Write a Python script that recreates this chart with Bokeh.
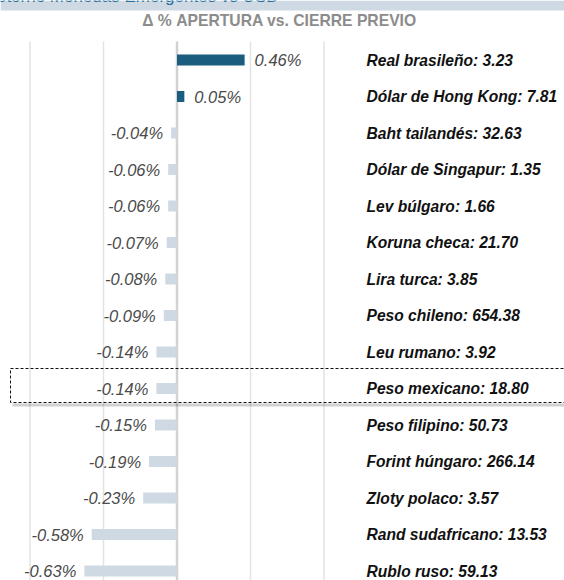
from bokeh.plotting import figure
from bokeh.models import Range1d, ColumnDataSource
from bokeh.core.properties import value
from bokeh.embed import file_html
from bokeh.resources import INLINE

# ---- data ----
currencies = [
    "Real brasileño: 3.23",
    "Dólar de Hong Kong: 7.81",
    "Baht tailandés: 32.63",
    "Dólar de Singapur: 1.35",
    "Lev búlgaro: 1.66",
    "Koruna checa: 21.70",
    "Lira turca: 3.85",
    "Peso chileno: 654.38",
    "Leu rumano: 3.92",
    "Peso mexicano: 18.80",
    "Peso filipino: 50.73",
    "Forint húngaro: 266.14",
    "Zloty polaco: 3.57",
    "Rand sudafricano: 13.53",
    "Rublo ruso: 59.13",
]
changes = [0.46, 0.05, -0.04, -0.06, -0.06, -0.07, -0.08, -0.09,
           -0.14, -0.14, -0.15, -0.19, -0.23, -0.58, -0.63]
grid_ticks = [-1.0, -0.5, 0.0, 0.5, 1.0]
highlight = "Peso mexicano: 18.80"
header_text = "Retorno Monedas Emergentes vs USD"
title_text = "\u0394 % APERTURA vs. CIERRE PREVIO"

# ---- scales (pixels) ----
W, H = 564, 580
PX_PER_UNIT = 147.0
ZERO_PX = 176.5
ROW0_PX = 59.5
ROW_STEP = 36.5

x_start = -ZERO_PX / PX_PER_UNIT
x_end = x_start + W / PX_PER_UNIT
y_top = -ROW0_PX / ROW_STEP
y_bottom = y_top + H / ROW_STEP

def px_x(px):
    return x_start + px / PX_PER_UNIT

def px_y(py):
    return y_top + py / ROW_STEP

p = figure(width=W, height=H, output_backend="svg", toolbar_location=None,
           x_range=Range1d(x_start, x_end), y_range=Range1d(y_bottom, y_top),
           min_border=0, outline_line_color=None)
p.axis.visible = False
p.grid.visible = False
p.background_fill_color = "white"
p.border_fill_color = "white"

rows = list(range(len(currencies)))

# top band (cropped header strip, as in the reference)
p.quad(left=[x_start], right=[x_end], top=[y_top], bottom=[px_y(10)],
       fill_color="#cfd9e3", line_color=None)
p.text(x=[px_x(278)], y=[px_y(-4)], text=[header_text],
       text_font=value("Liberation Sans"), text_font_size="17px",
       text_color="#2a6f9e", text_align="right", text_baseline="alphabetic")

# grid lines
grid_top = px_y(41)
p.segment(x0=grid_ticks, x1=grid_ticks, y0=[grid_top] * len(grid_ticks),
          y1=[y_bottom] * len(grid_ticks),
          line_color=["#e3e3e3", "#e3e3e3", "#d2d2d2", "#e3e3e3", "#e3e3e3"],
          line_width=[1.5, 1.5, 2.5, 1.5, 1.5])

# bars
colors = ["#1b5d7e" if v > 0 else "#cfd9e4" for v in changes]
src = ColumnDataSource(dict(y=rows, v=changes, c=colors,
                            lbl=[f"{v:.2f}%" for v in changes],
                            name=currencies))
p.hbar(y="y", left=0, right="v", height=11 / ROW_STEP, fill_color="c",
       line_color=None, source=src)

pos = ColumnDataSource(dict(y=[r for r, v in zip(rows, changes) if v > 0],
                            v=[v for v in changes if v > 0],
                            lbl=[f"{v:.2f}%" for v in changes if v > 0]))
neg = ColumnDataSource(dict(y=[r for r, v in zip(rows, changes) if v <= 0],
                            v=[v for v in changes if v <= 0],
                            lbl=[f"{v:.2f}%" for v in changes if v <= 0]))
common = dict(text_font=value("Liberation Sans"), text_font_size="16.5px",
              text_font_style="italic", text_color="#4a4a4a",
              text_baseline="middle")
p.text(x="v", y="y", text="lbl", x_offset=10, text_align="left", source=pos, **common)
p.text(x="v", y="y", text="lbl", x_offset=-8, text_align="right", source=neg, **common)

# currency labels
p.text(x=px_x(366), y="y", text="name", source=src,
       text_font=value("Liberation Sans"), text_font_size="15.6px",
       text_font_style="bold italic", text_color="#111111",
       text_align="left", text_baseline="middle")

# title
p.text(x=[px_x(279)], y=[px_y(20)], text=[title_text],
       text_font=value("Liberation Sans"), text_font_size="15.7px",
       text_font_style="bold", text_color="#8c8c8c",
       text_align="center", text_baseline="middle")

# highlight box around Peso mexicano
hi = currencies.index(highlight)
box_top = hi + (368 - (ROW0_PX + hi * ROW_STEP)) / ROW_STEP
box_bot = hi + (402 - (ROW0_PX + hi * ROW_STEP)) / ROW_STEP
shadow = 2.5 / ROW_STEP
p.segment(x0=[px_x(12)], x1=[x_end], y0=[box_bot + shadow], y1=[box_bot + shadow],
          line_color="#000000", line_alpha=0.18, line_width=3)
p.quad(left=[px_x(10)], right=[x_end + 1], top=[box_top], bottom=[box_bot],
       fill_color=None, line_color="#111111", line_width=1, line_dash="3 2")

open("out.html", "w").write(file_html(p, INLINE))
